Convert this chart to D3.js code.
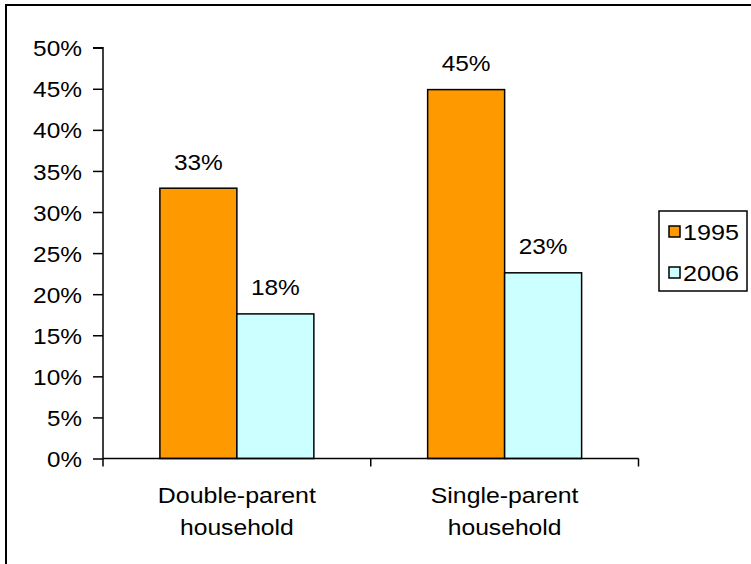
<!DOCTYPE html>
<html><head><meta charset="utf-8">
<script src="https://cdn.jsdelivr.net/npm/d3@7"></script>
<style>
html,body{margin:0;padding:0;background:#fff;}
text{font-family:"Liberation Sans",Arial,sans-serif;fill:#000;}
</style></head>
<body>
<svg id="chart" width="751" height="564"></svg>
<script>
const categories = ["Double-parent household", "Single-parent household"];
const categoryLines = [["Double-parent", "household"], ["Single-parent", "household"]];
const seriesNames = ["1995", "2006"];
const values1995 = [32.9, 44.9];
const values2006 = [17.6, 22.6];
const valueLabels1995 = ["33%", "45%"];
const valueLabels2006 = ["18%", "23%"];
const yTicks = [0, 5, 10, 15, 20, 25, 30, 35, 40, 45, 50];
const colors = ["#FF9900", "#CCFFFF"];

(function () {
const svg = d3.select("#chart");
svg.append("rect").attr("x", 6).attr("y", 5).attr("width", 900).attr("height", 700)
  .attr("fill", "none").attr("stroke", "#000").attr("stroke-width", 2);

const pLeft = 103, pRight = 638.5, pTop = 47.7, pBottom = 458.5;
const fs = 22.5;
const y = d3.scaleLinear().domain([0, 50]).range([pBottom, pTop]);
const x0 = d3.scaleBand().domain(categories).range([pLeft, pRight]).paddingInner(0).paddingOuter(0);
const x1 = d3.scaleBand().domain(seriesNames).range([0, x0.bandwidth()]).paddingInner(0).paddingOuter(0.739);

const series = [values1995, values2006];
const labels = [valueLabels1995, valueLabels2006];

categories.forEach((c, i) => {
  seriesNames.forEach((s, j) => {
    const bx = x0(c) + x1(s);
    svg.append("rect")
      .attr("x", bx).attr("y", y(series[j][i]))
      .attr("width", x1.bandwidth()).attr("height", y(0) - y(series[j][i]))
      .attr("fill", colors[j]).attr("stroke", "#000").attr("stroke-width", 1.5);
    svg.append("text")
      .attr("x", bx + x1.bandwidth() / 2).attr("y", y(series[j][i]) - 18.5)
      .attr("text-anchor", "middle").attr("font-size", fs)
      .text(labels[j][i]);
  });
});

const yAxis = d3.axisLeft(y).tickValues(yTicks).tickSize(10).tickPadding(11)
  .tickFormat(d => d + "%");
const gy = svg.append("g").attr("transform", `translate(${pLeft},0)`).call(yAxis);
gy.select(".domain").attr("stroke", "#000").attr("stroke-width", 1.5).attr("d", `M-10,${pTop}H0V${pBottom}`);
gy.selectAll(".tick line").attr("stroke", "#000").attr("stroke-width", 1.5);
gy.selectAll(".tick text").attr("font-size", fs).attr("fill", "#000").attr("dy", "0.36em");

const xTickPos = d3.scaleLinear().domain([0, categories.length]).range([pLeft, pRight]);
const gx = svg.append("g");
gx.append("line").attr("x1", pLeft).attr("x2", pRight).attr("y1", pBottom).attr("y2", pBottom)
  .attr("stroke", "#000").attr("stroke-width", 1.5);
d3.range(categories.length + 1).forEach(k => {
  gx.append("line").attr("x1", xTickPos(k)).attr("x2", xTickPos(k))
    .attr("y1", pBottom).attr("y2", pBottom + 8).attr("stroke", "#000").attr("stroke-width", 1.5);
});
categories.forEach((c, i) => {
  categoryLines[i].forEach((ln, k) => {
    svg.append("text").attr("text-anchor", "middle").attr("font-size", fs)
      .attr("x", x0(c) + x0.bandwidth() / 2).attr("y", 503 + k * 32).text(ln);
  });
});

const lg = svg.append("g");
lg.append("rect").attr("x", 659).attr("y", 211).attr("width", 88).attr("height", 80)
  .attr("fill", "#fff").attr("stroke", "#000").attr("stroke-width", 1.5);
seriesNames.forEach((s, j) => {
  const cy = 231.5 + j * 41;
  lg.append("rect").attr("x", 669).attr("y", cy - 5.5).attr("width", 11).attr("height", 11)
    .attr("fill", colors[j]).attr("stroke", "#000").attr("stroke-width", 1.5);
  lg.append("text").attr("x", 683).attr("y", cy).attr("dy", "0.36em").attr("font-size", fs).text(s);
});

// widen glyph runs to match the reference's wider text metrics
const probe = svg.append("text").style("font-family", "'DejaVu Sans'").style("font-size", "22px")
  .attr("x", -1000).attr("y", -1000);
svg.selectAll("text").filter(function () { return this !== probe.node(); }).each(function () {
  probe.text(this.textContent);
  const w = probe.node().getComputedTextLength();
  d3.select(this).attr("textLength", w).attr("lengthAdjust", "spacingAndGlyphs");
});
probe.remove();
})();
</script>
</body></html>
